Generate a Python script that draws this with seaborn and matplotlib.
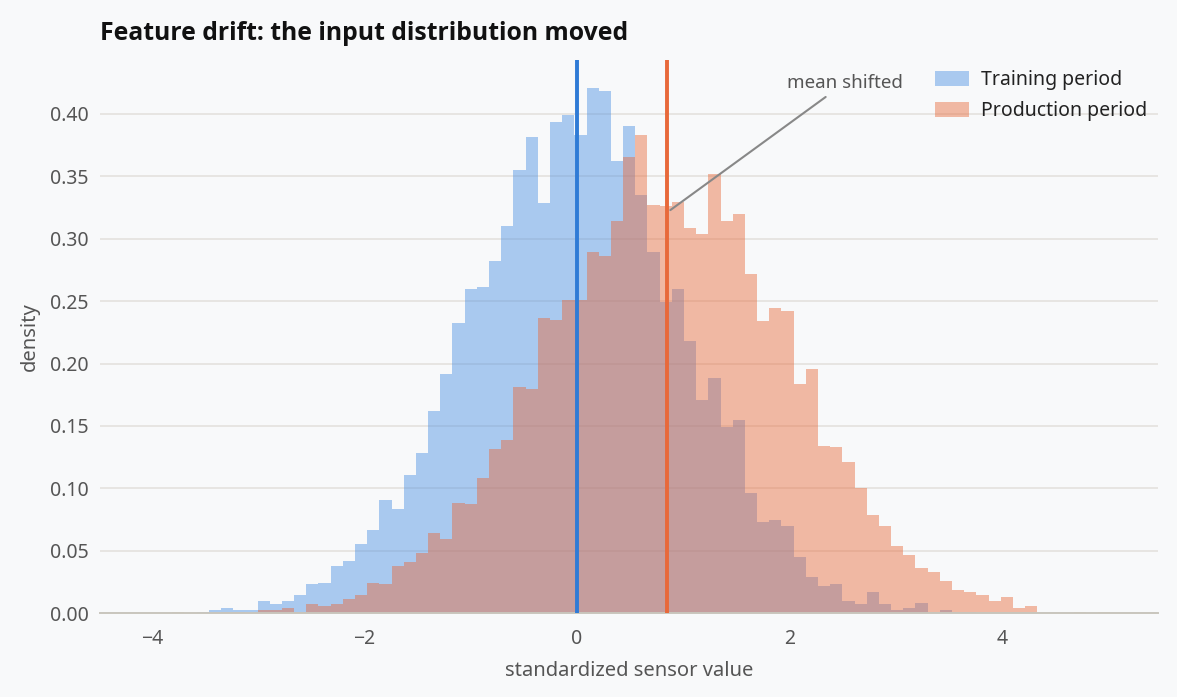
import numpy as np
import pandas as pd
import matplotlib
matplotlib.use("Agg")
import matplotlib.pyplot as plt
import seaborn as sns

# ---- data (density per bin, shared bin edges) ----
bin_lo, bin_hi, n_bins = -3.81, 5.02, 77

train_density = [
    0.0, 0.0, 0.0013, 0.0029, 0.0045, 0.0029, 0.0029, 0.0101, 0.0077, 0.0101,
    0.0149, 0.0237, 0.0245, 0.0380, 0.0420, 0.0556, 0.0668, 0.0907, 0.0835, 0.1104,
    0.1282, 0.1617, 0.1914, 0.2323, 0.2595, 0.2609, 0.2818, 0.3099, 0.3548, 0.3811,
    0.3285, 0.3931, 0.3989, 0.3828, 0.4206, 0.4180, 0.3620, 0.3900, 0.3348, 0.2890,
    0.2495, 0.2595, 0.2177, 0.1708, 0.1883, 0.1491, 0.1545, 0.0961, 0.0730, 0.0749,
    0.0701, 0.0452, 0.0291, 0.0219, 0.0235, 0.0099, 0.0075, 0.0171, 0.0075, 0.0027,
    0.0043, 0.0083, 0.0, 0.0027, 0.0013, 0.0013, 0.0, 0.0, 0.0, 0.0,
    0.0, 0.0, 0.0, 0.0, 0.0, 0.0, 0.0,
]
prod_density = [
    0.0013, 0.0, 0.0, 0.0, 0.0013, 0.0013, 0.0, 0.0029, 0.0029, 0.0045,
    0.0013, 0.0077, 0.0061, 0.0077, 0.0117, 0.0149, 0.0245, 0.0237, 0.0380, 0.0415,
    0.0481, 0.0641, 0.0592, 0.0887, 0.0873, 0.1082, 0.1313, 0.1385, 0.1808, 0.1794,
    0.2363, 0.2346, 0.2506, 0.2506, 0.2890, 0.2858, 0.3139, 0.3651, 0.3828, 0.3268,
    0.3259, 0.3296, 0.3084, 0.3036, 0.3516, 0.3139, 0.3196, 0.2715, 0.2338, 0.2441,
    0.2417, 0.1832, 0.1960, 0.1342, 0.1334, 0.1214, 0.1005, 0.0789, 0.0701, 0.0540,
    0.0468, 0.0364, 0.0332, 0.0259, 0.0190, 0.0174, 0.0150, 0.0102, 0.0134, 0.0045,
    0.0061, 0.0, 0.0, 0.0, 0.0013, 0.0, 0.0013,
]
train_mean = 0.0
prod_mean = 0.847

edges = np.linspace(bin_lo, bin_hi, n_bins + 1)
centers = (edges[:-1] + edges[1:]) / 2
df_train = pd.DataFrame({"value": centers, "density": train_density})
df_prod = pd.DataFrame({"value": centers, "density": prod_density})

# ---- style ----
bg = "#f8f9fa"
sns.set_theme(style="whitegrid", rc={
    "figure.facecolor": bg,
    "axes.facecolor": bg,
    "grid.color": "#e3e0db",
    "grid.linewidth": 1.1,
    "axes.edgecolor": "#c9c6bd",
    "text.color": "#222222",
    "axes.labelcolor": "#555555",
    "xtick.color": "#555555",
    "ytick.color": "#555555",
})
plt.rcParams["font.family"] = ["Noto Sans", "DejaVu Sans"]

fig = plt.figure(figsize=(11.77, 6.97), dpi=100)
ax = fig.add_axes([0.085, 0.12, 0.899, 0.794])

blue = "#4a90e2"
orange = "#e8693a"

sns.histplot(data=df_train, x="value", weights="density", bins=list(edges), stat="count",
             color=blue, alpha=0.45, linewidth=0, ax=ax, label="Training period")
sns.histplot(data=df_prod, x="value", weights="density", bins=list(edges), stat="count",
             color=orange, alpha=0.45, linewidth=0, ax=ax, label="Production period")

ax.axvline(train_mean, color="#2f7bd6", lw=2.8, zorder=5)
ax.axvline(prod_mean, color=orange, lw=2.8, zorder=5)

ax.annotate("mean shifted", xy=(prod_mean + 0.01, 0.3215), xytext=(2.52, 0.4245),
            ha="center", va="center", fontsize=13.5, color="#555555",
            arrowprops=dict(arrowstyle="-", color="#888888", lw=1.5))

ax.set_xlim(-4.49, 5.47)
ax.set_ylim(0, 0.443)
ax.set_yticks(np.arange(0, 0.41, 0.05))
ax.yaxis.set_major_formatter(matplotlib.ticker.FormatStrFormatter("%.2f"))
ax.grid(axis="x", visible=False)
for side in ["left", "right", "top"]:
    ax.spines[side].set_visible(False)
ax.spines["bottom"].set_linewidth(1.4)
ax.tick_params(axis="both", length=0, labelsize=14, pad=8)
ax.tick_params(axis="x", pad=11)

ax.set_xlabel("standardized sensor value", fontsize=14.5, labelpad=9)
ax.set_ylabel("density", fontsize=14.5, labelpad=7)
ax.set_title("Feature drift: the input distribution moved", loc="left",
             fontsize=17.8, fontweight="bold", pad=14, color="#111111",
             family=["Open Sans", "DejaVu Sans"])

ax.legend(loc="upper right", frameon=False, fontsize=14, handlelength=1.75,
          handleheight=0.8, handletextpad=0.6, labelspacing=0.55,
          bbox_to_anchor=(1.006, 1.013))

fig.savefig("out.png", dpi=100, facecolor=bg)
